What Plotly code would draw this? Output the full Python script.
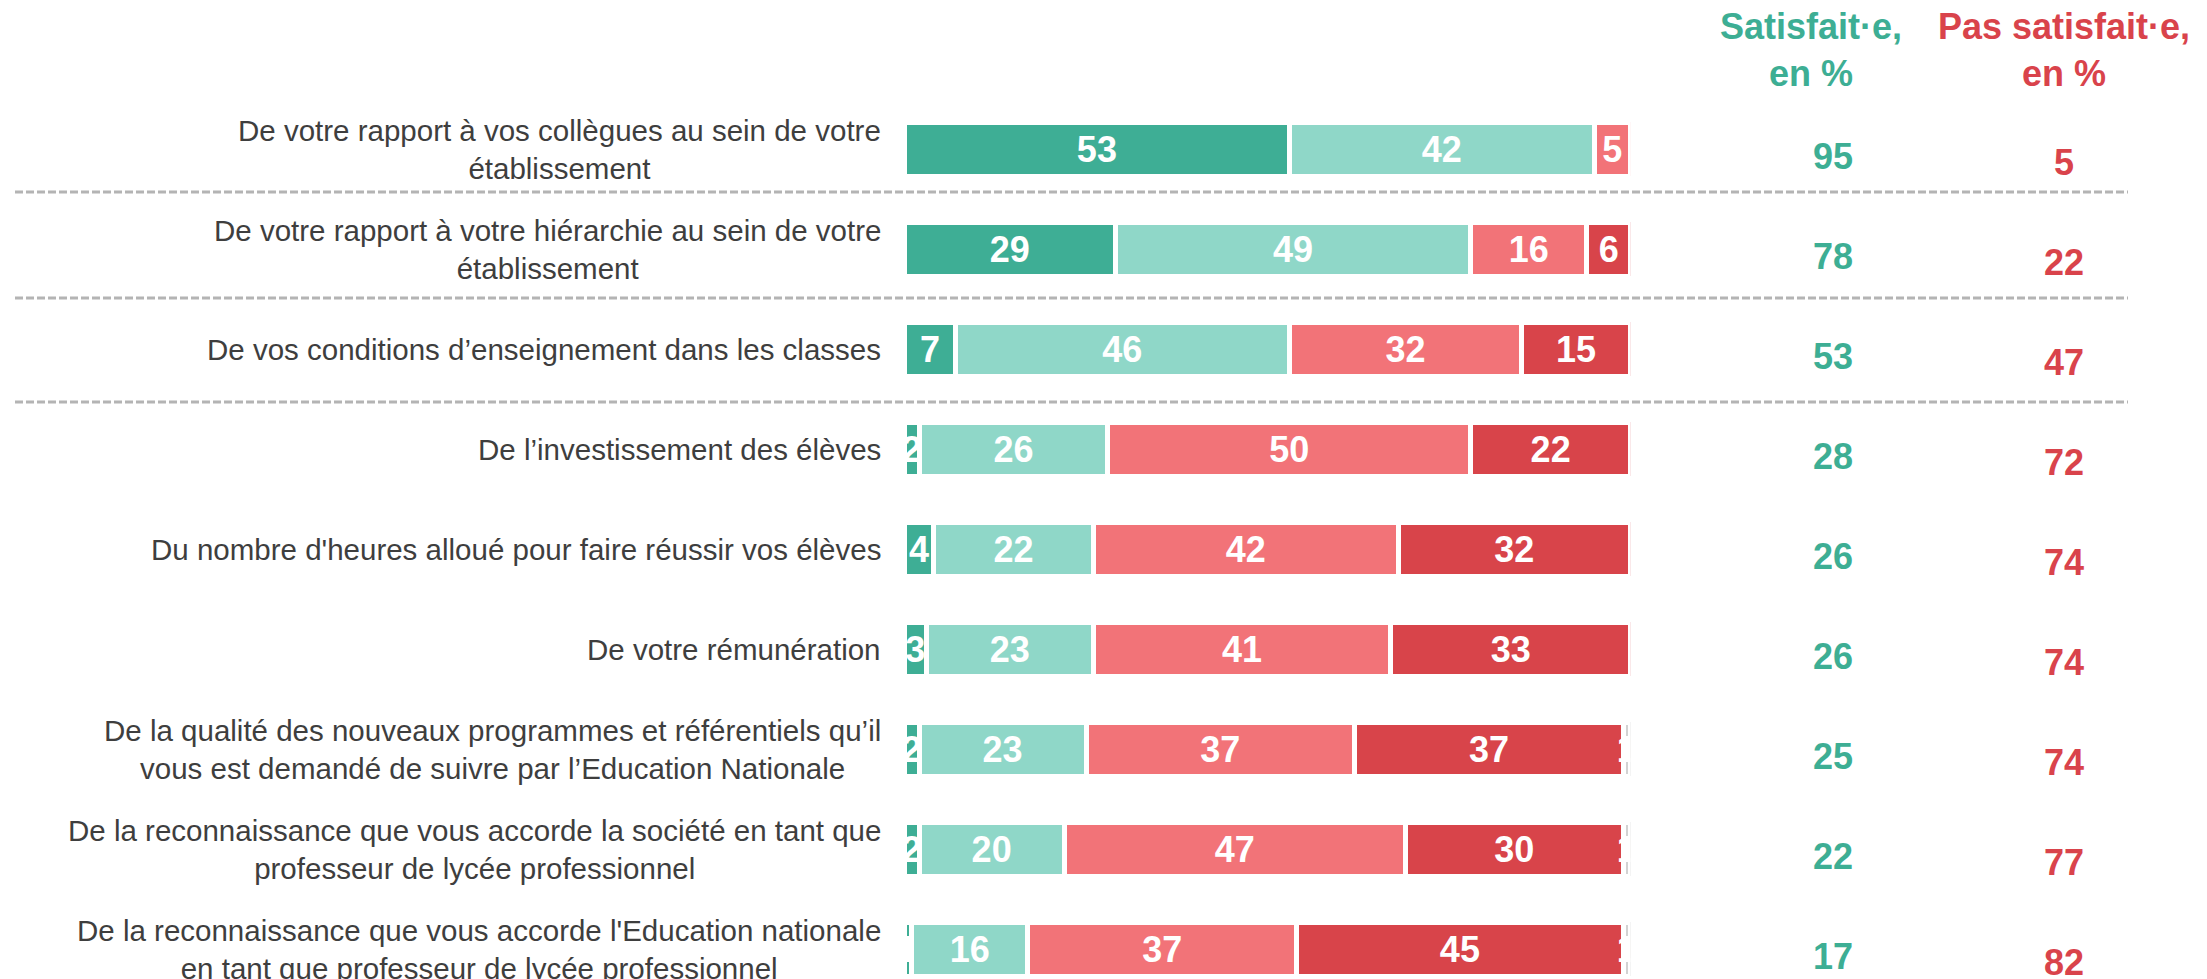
import plotly.graph_objects as go

W, H = 2207, 979
TOP = 99  # plot area top, px

categories = [
    "De votre rapport à vos collègues au sein de votre<br>établissement",
    "De votre rapport à votre hiérarchie au sein de votre<br>établissement",
    "De vos conditions d’enseignement dans les classes",
    "De l’investissement des élèves",
    "Du nombre d'heures alloué pour faire réussir vos élèves",
    "De votre rémunération",
    "De la qualité des nouveaux programmes et référentiels qu’il<br>vous est demandé de suivre par l’Education Nationale",
    "De la reconnaissance que vous accorde la société en tant que<br>professeur de lycée professionnel",
    "De la reconnaissance que vous accorde l'Education nationale<br>en tant que professeur de lycée professionnel",
]
tres_satisfait = [53, 29, 7, 2, 4, 3, 2, 2, 1]
plutot_satisfait = [42, 49, 46, 26, 22, 23, 23, 20, 16]
plutot_pas = [5, 16, 32, 50, 42, 41, 37, 47, 37]
pas_du_tout = [0, 6, 15, 22, 32, 33, 37, 30, 45]
sans_reponse = [0, 0, 0, 0, 0, 0, 1, 1, 1]
total_satisfait = [95, 78, 53, 28, 26, 26, 25, 22, 17]
total_pas = [5, 22, 47, 72, 74, 74, 74, 77, 82]

GREEN = "#3DAE94"
RED = "#D9434B"
FONT = "Liberation Sans, Arial, sans-serif"

rows = list(range(len(categories)))
series = [
    (tres_satisfait, "#3EAE95"),
    (plutot_satisfait, "#8FD7C8"),
    (plutot_pas, "#F27378"),
    (pas_du_tout, "#D8444A"),
    (sans_reponse, "#D2D2D2"),
]

fig = go.Figure()
for vals, col in series:
    fig.add_trace(go.Bar(
        x=vals, y=rows, orientation="h",
        marker=dict(color=col, line=dict(color="white", width=5)),
        text=[str(v) if v else "" for v in vals],
        textposition="inside", insidetextanchor="middle",
        constraintext="none", textangle=0,
        textfont=dict(family=FONT, size=36, color="white", weight="bold"),
        hoverinfo="skip", showlegend=False,
    ))

annotations = []
for i, lab in enumerate(categories):
    # category label: block right-aligned next to the bars, lines centred
    annotations.append(dict(
        x=883 / W, y=i, xref="paper", yref="y", text=lab, showarrow=False,
        xanchor="right", yanchor="middle", align="center",
        font=dict(family=FONT, size=29.5, color="#3E3E3E"),
    ))
    annotations.append(dict(
        x=1833 / W, y=i, xref="paper", yref="y", text=str(total_satisfait[i]),
        showarrow=False, xanchor="center", yanchor="middle", yshift=-7,
        font=dict(family=FONT, size=36, color=GREEN, weight="bold"),
    ))
    annotations.append(dict(
        x=2064 / W, y=i, xref="paper", yref="y", text=str(total_pas[i]),
        showarrow=False, xanchor="center", yanchor="middle", yshift=-13,
        font=dict(family=FONT, size=36, color=RED, weight="bold"),
    ))

head_y = 1 + (TOP - 50) / (H - TOP)
annotations.append(dict(
    x=1811 / W, y=head_y, xref="paper", yref="paper",
    text="Satisfait·e,<br>en %", showarrow=False, xanchor="center", yanchor="middle",
    font=dict(family=FONT, size=36, color=GREEN, weight="bold"),
))
annotations.append(dict(
    x=2064 / W, y=head_y, xref="paper", yref="paper",
    text="Pas satisfait·e,<br>en %", showarrow=False, xanchor="center", yanchor="middle",
    font=dict(family=FONT, size=36, color=RED, weight="bold"),
))

shapes = []
for ys in [0.43, 1.49, 2.53]:
    shapes.append(dict(
        type="line", xref="paper", yref="y", x0=15 / W, x1=2128 / W, y0=ys, y1=ys,
        line=dict(color="#B4B4B4", width=3, dash="8px,3px"), layer="below",
    ))

fig.update_layout(
    width=W, height=H, barmode="stack", bargap=0.46,
    margin=dict(l=0, r=0, t=TOP, b=0),
    paper_bgcolor="white", plot_bgcolor="white",
    xaxis=dict(domain=[904.5 / W, 1630.5 / W], range=[0, 100], visible=False, fixedrange=True),
    yaxis=dict(range=[8.3, -0.5], visible=False, fixedrange=True),
    annotations=annotations, shapes=shapes,
)

fig.write_html("out.html", config={"displayModeBar": False},
               post_script="document.body.style.margin='0';document.body.style.overflow='hidden';")
